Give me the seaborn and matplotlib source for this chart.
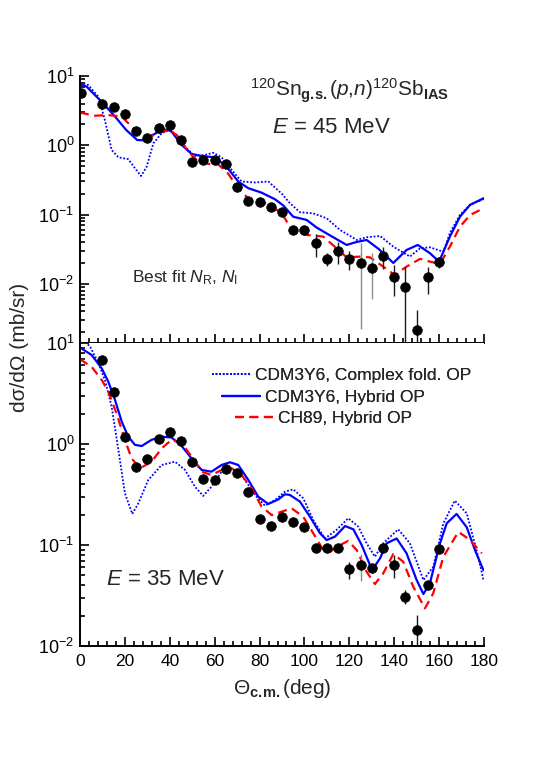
import numpy as np
import pandas as pd
import matplotlib
matplotlib.use("Agg")
import matplotlib.pyplot as plt
from matplotlib.ticker import MultipleLocator, LogLocator, NullFormatter
import seaborn as sns

sns.set_theme(style="ticks")
plt.rcParams["font.family"] = ["Liberation Sans", "DejaVu Sans"]
plt.rcParams["mathtext.fontset"] = "custom"
plt.rcParams["mathtext.rm"] = "Liberation Sans"
plt.rcParams["mathtext.it"] = "Liberation Sans:italic"
plt.rcParams["mathtext.bf"] = "Liberation Sans:bold"

# ---- E = 45 MeV: data ----
ang_45 = [0.5, 10, 15, 20, 25, 30, 35, 40, 45, 50, 55, 60, 65, 70, 75, 80,
          85, 90, 95, 100, 105, 110, 115, 120, 125, 130, 135, 140, 145, 150, 155, 160]
xs_45 = [5.7, 3.9, 3.53, 2.86, 1.61, 1.29, 1.78, 1.94, 1.18, 0.569, 0.614, 0.614,
         0.532, 0.253, 0.157, 0.153, 0.130, 0.110, 0.0593, 0.0593, 0.0385, 0.0231,
         0.0301, 0.0229, 0.0202, 0.0171, 0.0255, 0.0127, 0.00893, 0.00216, 0.01245, 0.0209]
err_45 = [0.3, 0.2, 0.18, 0.15, 0.09, 0.07, 0.09, 0.1, 0.07, 0.03, 0.04, 0.04,
          0.04, 0.02, 0.012, 0.012, 0.015, 0.014, 0.0075, 0.0075, 0.014, 0.005,
          0.0105, 0.0072, 0.018, 0.011, 0.009, 0.006, 0.0088, 0.002, 0.0053, 0.0038]
errc_45 = ["k"] * 24 + ["#8c8c8c", "#8c8c8c"] + ["k"] * 6

# CDM3Y6, complex folded OP
cf_ang_45 = [0, 3.7, 8.2, 11.1, 14.1, 17.1, 21.5, 24.5, 27.2, 29.7, 32.7, 36.4, 39.4,
             43.1, 46.8, 51.2, 55.7, 59.4, 63.1, 67.6, 72, 78, 83.9, 89.9, 93.5, 98,
             103.9, 109.9, 115.8, 123.3, 127.7, 133.7, 139.6, 147, 151.5, 155.9,
             161.9, 164.8, 169.3, 173.8, 180]
cf_val_45 = [8.0, 7.4, 5.0, 2.3, 0.855, 0.67, 0.63, 0.466, 0.36, 0.49, 1.07, 1.49, 1.66,
             1.41, 0.95, 0.70, 0.725, 0.78, 0.67, 0.44, 0.30, 0.29, 0.30, 0.20, 0.146, 0.108,
             0.104, 0.0885, 0.060, 0.043, 0.047, 0.049, 0.0344, 0.0247, 0.0326, 0.0337,
             0.029, 0.054, 0.099, 0.138, 0.168]
# CDM3Y6, hybrid OP
hy_ang_45 = [0, 3, 10.4, 15.6, 20.6, 25.5, 28.5, 31, 37, 40.5, 45.3, 49.7, 54.2, 60.1,
             65.3, 70.5, 75, 80.9, 86.9, 90.6, 95, 101, 105.4, 111.4, 118.8, 123, 127.7,
             133, 139.6, 145.5, 150.5, 155.9, 160, 164.8, 169.3, 173.8, 180]
hy_val_45 = [7.6, 7.0, 4.0, 2.6, 1.66, 1.19, 1.18, 1.33, 1.70, 1.62, 1.01, 0.75, 0.70, 0.67,
             0.49, 0.30, 0.24, 0.207, 0.166, 0.135, 0.093, 0.0836, 0.065, 0.050, 0.0364, 0.040,
             0.043, 0.032, 0.0200, 0.0308, 0.0364, 0.0277, 0.0209, 0.048, 0.0933, 0.138, 0.173]
# CH89, hybrid OP
ch_ang_45 = [0, 6.7, 12.6, 18.6, 23, 27.5, 31.9, 36.4, 40.1, 43.8, 48.2, 52.7, 57.1, 61.6,
             66, 70.5, 75, 80.9, 86.9, 90.6, 95, 101, 108.4, 114.3, 118.8, 124.7, 129.2,
             135.1, 140.3, 145.5, 151.5, 155.9, 160.4, 164.8, 169.3, 173.8, 180]
ch_val_45 = [2.96, 2.67, 2.73, 2.59, 1.86, 1.44, 1.36, 1.55, 1.66, 1.33, 0.81, 0.58, 0.54, 0.53,
             0.39, 0.24, 0.17, 0.153, 0.123, 0.095, 0.0567, 0.0508, 0.048, 0.0326, 0.0241, 0.0247,
             0.0241, 0.0177, 0.0134, 0.0177, 0.0229, 0.0209, 0.0194, 0.0344, 0.0668, 0.0986, 0.124]

# ---- E = 35 MeV: data ----
ang_35 = [10, 15, 20, 25, 30, 35, 40, 45, 50, 55, 60, 65, 70, 75, 80, 85, 90, 95,
          100, 105, 110, 115, 120, 125, 130, 135, 140, 145, 150, 155, 160]
xs_35 = [6.8, 3.3, 1.16, 0.597, 0.705, 1.11, 1.32, 1.07, 0.66, 0.447, 0.44, 0.565,
         0.513, 0.337, 0.181, 0.155, 0.19, 0.170, 0.150, 0.094, 0.0927, 0.0927, 0.0574,
         0.0634, 0.0588, 0.0927, 0.0634, 0.0308, 0.0144, 0.0402, 0.0912]
err_35 = [0.3, 0.15, 0.05, 0.03, 0.03, 0.05, 0.06, 0.05, 0.03, 0.02, 0.02, 0.025,
          0.025, 0.015, 0.015, 0.015, 0.01, 0.01, 0.008, 0.008, 0.007, 0.007, 0.011,
          0.019, 0.006, 0.007, 0.016, 0.005, 0.006, 0.004, 0.006]
errc_35 = ["k"] * 23 + ["#8c8c8c"] + ["k"] * 7

cf_ang_35 = [0, 4.5, 8.2, 11.1, 14.1, 17.1, 20, 23.3, 26, 30.4, 36.4, 42.3, 46.8, 51.2,
             54.9, 58.6, 63.1, 67.6, 72, 78, 82.4, 86.9, 91.3, 95, 99.5, 103.9, 109.1,
             114.3, 119.5, 124, 127.7, 131.4, 135.1, 141.8, 147, 153, 157.4, 161.9, 167,
             172.3, 176.7, 179.7]
cf_val_35 = [11.5, 9.2, 6.3, 4.3, 2.34, 0.873, 0.325, 0.203, 0.259, 0.44, 0.62, 0.668, 0.553,
             0.378, 0.306, 0.378, 0.532, 0.574, 0.493, 0.313, 0.245, 0.279, 0.337, 0.356,
             0.29, 0.177, 0.116, 0.141, 0.184, 0.152, 0.104, 0.0766, 0.104, 0.143, 0.104,
             0.045, 0.061, 0.164, 0.275, 0.206, 0.089, 0.0457]
hy_ang_35 = [0, 5.2, 9.7, 12.6, 15.6, 18.6, 21.5, 24.5, 27.5, 31.9, 36.4, 40.8, 45.3, 49.7,
             54.2, 58.6, 63.1, 66.8, 70.5, 75, 79.4, 83.9, 88.4, 91.3, 93.5, 98, 102.5,
             106.9, 109.9, 113.6, 118.1, 121.8, 125.5, 129.2, 130.7, 133.7, 136.6, 141.1,
             145.5, 150, 153, 155.9, 160.4, 163.4, 167.8, 172.3, 176, 179.7]
hy_val_35 = [9.0, 7.6, 5.6, 4.14, 2.73, 1.66, 1.18, 0.98, 0.955, 1.1, 1.18, 1.16, 0.955, 0.72,
             0.553, 0.532, 0.62, 0.659, 0.62, 0.44, 0.301, 0.255, 0.283, 0.318, 0.313, 0.269,
             0.19, 0.131, 0.112, 0.121, 0.154, 0.143, 0.1, 0.0634, 0.0588, 0.0738, 0.104,
             0.116, 0.0828, 0.045, 0.0327, 0.0418, 0.104, 0.164, 0.203, 0.15, 0.089, 0.0565]
ch_ang_35 = [0, 5.2, 9.7, 12.6, 16.3, 20, 23, 26.7, 31.9, 36.4, 40.8, 45.3, 49.7, 54.2,
             58.6, 63.1, 67.6, 72, 76.5, 80.9, 85.4, 89.9, 94.3, 99.5, 103.9, 108.4, 111.4,
             115.1, 119.5, 123.3, 127.7, 131.4, 135.1, 139.6, 144, 148.5, 153.7, 157.4,
             161.9, 168.6, 173.8, 179]
ch_val_35 = [6.9, 5.8, 4.3, 3.3, 2.0, 1.1, 0.72, 0.574, 0.668, 0.906, 1.1, 1.02, 0.75, 0.532,
             0.493, 0.553, 0.574, 0.493, 0.364, 0.24, 0.198, 0.214, 0.231, 0.19, 0.131, 0.089,
             0.0859, 0.0977, 0.11, 0.089, 0.0544, 0.0411, 0.0524, 0.0815, 0.0684, 0.0386,
             0.0236, 0.0333, 0.0766, 0.135, 0.112, 0.0828]

labels = ["CDM3Y6, Complex fold. OP", "CDM3Y6, Hybrid OP", "CH89, Hybrid OP"]
BLUE, RED = "#0000ff", "#ff0000"

fig = plt.figure(figsize=(5.38, 7.63), dpi=100)
ax1 = fig.add_axes([0.1487, 0.5505, 0.7509, 0.3499])
ax2 = fig.add_axes([0.1487, 0.1533, 0.7509, 0.3972])


def draw_panel(ax, ang, xs, err, errc, curves):
    (ca, cv), (ha, hv), (ra, rv) = curves
    sns.lineplot(x=ca, y=cv, ax=ax, color=BLUE, lw=1.3, linestyle=(0, (1, 1)), label=labels[0])
    sns.lineplot(x=ha, y=hv, ax=ax, color=BLUE, lw=1.6, label=labels[1])
    sns.lineplot(x=ra, y=rv, ax=ax, color=RED, lw=1.6, linestyle=(0, (4, 2.5)), label=labels[2])
    ang = np.array(ang)
    xs = np.array(xs)
    err = np.array(err)
    ax.vlines(ang, np.clip(xs - err, 1e-5, None), xs + err, colors=errc, lw=1.0, zorder=4)
    sns.scatterplot(x=ang, y=xs, ax=ax, color="black", s=48, edgecolor="black",
                    linewidth=0.5, zorder=5)
    ax.set_yscale("log")
    ax.set_xlim(0, 180)
    ax.xaxis.set_major_locator(MultipleLocator(20))
    ax.xaxis.set_minor_locator(MultipleLocator(4))
    ax.yaxis.set_major_locator(LogLocator(base=10))
    ax.yaxis.set_minor_locator(LogLocator(base=10, subs=np.arange(2, 10)))
    ax.yaxis.set_minor_formatter(NullFormatter())
    ax.tick_params(which="both", direction="in", width=1.2, colors="black",
                   top=False, right=False)
    ax.tick_params(which="major", length=6.5)
    ax.tick_params(which="minor", length=3.5)
    ax.tick_params(axis="y", labelsize=13, pad=4)
    ax.tick_params(axis="x", labelsize=12.5, pad=6)
    ax.spines["top"].set_visible(False)
    ax.spines["right"].set_visible(False)
    for s in ("left", "bottom"):
        ax.spines[s].set_linewidth(1.4)
        ax.spines[s].set_color("black")
    ax.set_xlabel("")
    ax.set_ylabel("")
    ax.legend().remove()


draw_panel(ax1, ang_45, xs_45, err_45, errc_45,
           [(cf_ang_45, cf_val_45), (hy_ang_45, hy_val_45), (ch_ang_45, ch_val_45)])
ax1.set_ylim(1.4e-3, 10)
ax1.tick_params(axis="x", labelbottom=False)

draw_panel(ax2, ang_35, xs_35, err_35, errc_35,
           [(cf_ang_35, cf_val_35), (hy_ang_35, hy_val_35), (ch_ang_35, ch_val_35)])
ax2.set_ylim(1e-2, 10)

# one legend row per model, each row indented like the original
handles = ax2.lines[:3]
row_anchor = [(0.3935, 0.5085), (0.4121, 0.4793), (0.4368, 0.4518)]
for h, lab, (bx, by) in zip(handles, labels, row_anchor):
    leg = fig.legend([h], [lab], loc="center left", bbox_to_anchor=(bx, by),
                     bbox_transform=fig.transFigure, frameon=False, fontsize=12.5,
                     handlelength=2.2, handletextpad=0.3, borderpad=0, borderaxespad=0)
    fig.add_artist(leg)

fig.text(0.4647, 0.8729,
         r"$^{120}$Sn$_{\mathbf{g.\!s.}}$($p$,$n$)$^{120}$Sb$_{\mathbf{IAS}}$",
         fontsize=15, ha="left", va="baseline")
fig.text(0.5056, 0.8257, r"$E$ = 45 MeV", fontsize=16, ha="left", va="baseline")
fig.text(0.2454, 0.6304, r"Best fit $N_{\mathrm{R}}$, $N_{\mathrm{I}}$", fontsize=12.5,
         ha="left", va="baseline")
fig.text(0.197, 0.2333, r"$E$ = 35 MeV", fontsize=16, ha="left", va="baseline")
fig.text(0.037, 0.545, "dσ/dΩ (mb/sr)", fontsize=15, rotation=90, ha="center", va="center")
fig.text(0.524, 0.098, r"Θ$_{\mathbf{c.\!m.}}$(deg)", fontsize=15, ha="center", va="center")

fig.savefig("out.png", dpi=100)
plt.close(fig)
